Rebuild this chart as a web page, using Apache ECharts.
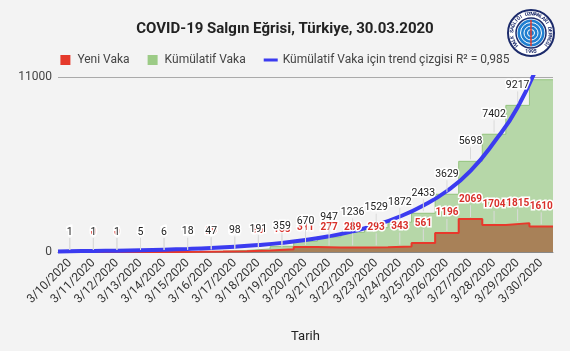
<!DOCTYPE html>
<html>
<head>
<meta charset="utf-8">
<script src="https://cdn.jsdelivr.net/npm/echarts@6/dist/echarts.min.js"></script>
<style>
  html, body { margin: 0; padding: 0; background: #f3f3f3; }
  #chart { width: 570px; height: 351px; }
</style>
</head>
<body>
<div id="chart"></div>
<script>
  const dates = ['3/10/2020', '3/11/2020', '3/12/2020', '3/13/2020', '3/14/2020', '3/15/2020', '3/16/2020',
    '3/17/2020', '3/18/2020', '3/19/2020', '3/20/2020', '3/21/2020', '3/22/2020', '3/23/2020',
    '3/24/2020', '3/25/2020', '3/26/2020', '3/27/2020', '3/28/2020', '3/29/2020', '3/30/2020'];
  const cumulative = [1, 1, 1, 5, 6, 18, 47, 98, 191, 359, 670, 947, 1236, 1529, 1872, 2433, 3629, 5698, 7402, 9217, 10827];
  const newCases = [1, 0, 0, 4, 1, 12, 29, 51, 93, 168, 311, 277, 289, 293, 343, 561, 1196, 2069, 1704, 1815, 1610];
  // trend curve at each day, plus its value at the left edge
  const trend = [50, 65, 86, 113, 148, 194, 254, 333, 438, 574, 753, 989, 1297, 1700, 2230, 2925, 3835, 5100, 6900, 9100, 12300];
  const trendStart = 38;
  const yMax = 11000;

  const stepData = vals => vals.map((v, i) => [i, v]).concat([[vals.length, vals[vals.length - 1]]]);

  function labelSeries(name, values, color, font, z) {
    return {
      type: 'custom',
      name: name,
      xAxisIndex: 1,
      z: z,
      silent: true,
      data: values.map((v, i) => [i + 0.5, v]),
      renderItem: function (params, api) {
        const p = api.coord([api.value(0), api.value(1)]);
        if (p[1] - 27 < params.coordSys.y) return;
        return {
          type: 'group',
          children: [
            {
              type: 'line',
              shape: { x1: p[0], y1: p[1] - 2, x2: p[0], y2: p[1] - 14 },
              style: { stroke: '#dadada', lineWidth: 1 }
            },
            {
              type: 'text',
              style: {
                text: String(api.value(1)), x: p[0], y: p[1] - 20,
                align: 'center', verticalAlign: 'middle',
                fill: color, font: font,
                stroke: '#ffffff', lineWidth: 3, strokeFirst: true
              }
            }
          ]
        };
      }
    };
  }

  // logo in the top right corner
  const logoText = 'HALK SAĞLIĞI UZMANLARI DERNEĞİ';
  const logoChars = [];
  for (let k = 0; k < logoText.length; k++) {
    const a = (140 + k * 260 / (logoText.length - 1)) * Math.PI / 180;
    logoChars.push({
      type: 'text',
      x: 19 * Math.cos(a), y: 19 * Math.sin(a),
      rotation: -(a + Math.PI / 2),
      style: { text: logoText[k], fill: '#1c2b6b', font: 'bold 5px Roboto', align: 'center', verticalAlign: 'middle' }
    });
  }

  const chart = echarts.init(document.getElementById('chart'));
  chart.setOption({
    backgroundColor: '#f3f3f3',
    animation: false,
    textStyle: { fontFamily: 'Roboto' },
    title: {
      text: 'COVID-19 Salgın Eğrisi, Türkiye, 30.03.2020',
      left: 'center',
      top: 17,
      textStyle: { fontSize: 15, fontWeight: 'bold', color: '#222' }
    },
    legend: {
      top: 49,
      left: 'center',
      itemWidth: 14,
      itemHeight: 10,
      itemGap: 18,
      textStyle: { fontSize: 12, color: '#444' },
      data: [
        { name: 'Yeni Vaka', icon: 'path://M0,0h10v10h-10z' },
        { name: 'Kümülatif Vaka', icon: 'path://M0,0h10v10h-10z' },
        { name: 'Kümülatif Vaka için trend çizgisi R² = 0,985', icon: 'path://M0,0h14v3h-14z' }
      ]
    },
    grid: { left: 58, right: 17, top: 77, bottom: 99 },
    xAxis: [
      {
        type: 'category',
        data: dates,
        boundaryGap: true,
        axisLine: { show: true, lineStyle: { color: '#888' } },
        axisTick: { show: false },
        axisLabel: { interval: 0, rotate: 45, fontSize: 12, color: '#333', margin: 9 },
        name: 'Tarih',
        nameLocation: 'middle',
        nameGap: 78,
        nameTextStyle: { fontSize: 13, color: '#222' }
      },
      { type: 'value', min: 0, max: dates.length, show: false }
    ],
    yAxis: {
      type: 'value',
      min: 0,
      max: yMax,
      interval: yMax,
      axisLine: { show: false },
      axisTick: { show: false },
      axisLabel: { fontSize: 12, color: '#444', margin: 6, formatter: v => String(v) },
      splitLine: { lineStyle: { color: '#aaa' } }
    },
    series: [
      {
        name: 'Kümülatif Vaka',
        type: 'line',
        xAxisIndex: 1,
        step: 'end',
        symbol: 'none',
        z: 2,
        itemStyle: { color: '#9ccb86' },
        lineStyle: { color: '#93c47d', width: 1 },
        areaStyle: { color: '#b6d7a8', opacity: 1 },
        data: stepData(cumulative)
      },
      {
        name: 'Yeni Vaka',
        type: 'line',
        xAxisIndex: 1,
        step: 'end',
        symbol: 'none',
        z: 3,
        itemStyle: { color: '#e5392b' },
        lineStyle: { color: '#e8382b', width: 2 },
        areaStyle: { color: '#a88158', opacity: 1 },
        data: stepData(newCases)
      },
      {
        name: 'Kümülatif Vaka için trend çizgisi R² = 0,985',
        type: 'line',
        xAxisIndex: 1,
        smooth: true,
        symbol: 'none',
        z: 4,
        itemStyle: { color: '#3b3bf0' },
        lineStyle: { color: '#3b3bf0', width: 4 },
        data: [[0, trendStart]].concat(trend.map((v, i) => [i + 0.5, v]))
      },
      labelSeries('newLabels', newCases, '#d8302a', 'bold 10px Roboto', 5),
      labelSeries('cumLabels', cumulative, '#222', '10.5px Roboto', 6)
    ],
    graphic: [
      {
        type: 'group',
        x: 531, y: 33,
        children: [
          { type: 'circle', shape: { r: 23 }, style: { fill: '#fff', stroke: '#1c2b6b', lineWidth: 2 } },
          { type: 'circle', shape: { r: 15 }, style: { fill: 'none', stroke: '#1c2b6b', lineWidth: 1.5 } },
          { type: 'circle', shape: { r: 13.5 }, style: { fill: '#1f7fd0' } },
          { type: 'circle', shape: { r: 10.5 }, style: { fill: 'none', stroke: '#fff', lineWidth: 1 } },
          { type: 'circle', shape: { r: 7 }, style: { fill: 'none', stroke: '#fff', lineWidth: 1 } },
          { type: 'circle', shape: { r: 3.5 }, style: { fill: 'none', stroke: '#fff', lineWidth: 1 } },
          { type: 'line', shape: { x1: 0, y1: -13, x2: 0, y2: 13 }, style: { stroke: '#e23b2e', lineWidth: 1.5 } },
          { type: 'text', x: 0, y: 19, style: { text: '1995', fill: '#1c2b6b', font: 'bold 5px Roboto', align: 'center', verticalAlign: 'middle' } }
        ].concat(logoChars)
      }
    ]
  });
</script>
</body>
</html>
